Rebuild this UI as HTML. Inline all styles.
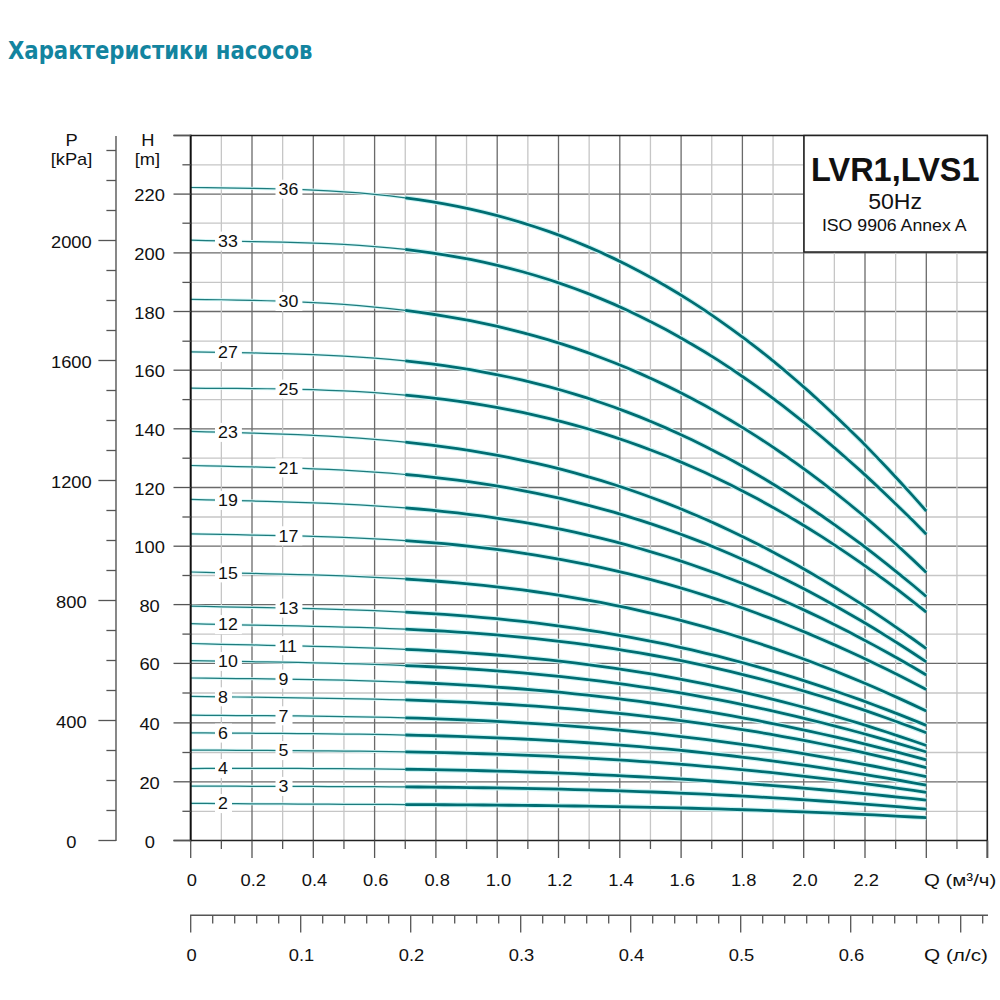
<!DOCTYPE html>
<html><head><meta charset="utf-8"><style>
html,body{margin:0;padding:0;background:#fff;width:1000px;height:1000px;overflow:hidden}
h1{position:absolute;left:8px;top:35px;margin:0;font:bold 25.5px/30px "DejaVu Sans Condensed","Liberation Sans",sans-serif;color:#13849f;white-space:nowrap;transform:scaleX(0.925);transform-origin:0 0}
svg{position:absolute;left:0;top:0}
.lb{font:16.8px "Liberation Sans",sans-serif;fill:#111}
.bx{font-family:"Liberation Sans",sans-serif;fill:#111}
.ax{font:16.8px "Liberation Sans",sans-serif;fill:#111}
</style></head><body>
<h1>Характеристики насосов</h1>
<svg width="1000" height="1000" viewBox="0 0 1000 1000">
<line x1="190.7" y1="811.30" x2="987.5" y2="811.30" stroke="#c6c6c6" stroke-width="1.3"/>
<line x1="190.7" y1="781.80" x2="987.5" y2="781.80" stroke="#6a6a6a" stroke-width="1.3"/>
<line x1="190.7" y1="752.50" x2="987.5" y2="752.50" stroke="#c6c6c6" stroke-width="1.3"/>
<line x1="190.7" y1="722.90" x2="987.5" y2="722.90" stroke="#6a6a6a" stroke-width="1.3"/>
<line x1="190.7" y1="693.00" x2="987.5" y2="693.00" stroke="#c6c6c6" stroke-width="1.3"/>
<line x1="190.7" y1="663.40" x2="987.5" y2="663.40" stroke="#6a6a6a" stroke-width="1.3"/>
<line x1="190.7" y1="634.10" x2="987.5" y2="634.10" stroke="#c6c6c6" stroke-width="1.3"/>
<line x1="190.7" y1="604.60" x2="987.5" y2="604.60" stroke="#6a6a6a" stroke-width="1.3"/>
<line x1="190.7" y1="575.50" x2="987.5" y2="575.50" stroke="#c6c6c6" stroke-width="1.3"/>
<line x1="190.7" y1="546.20" x2="987.5" y2="546.20" stroke="#6a6a6a" stroke-width="1.3"/>
<line x1="190.7" y1="517.00" x2="987.5" y2="517.00" stroke="#c6c6c6" stroke-width="1.3"/>
<line x1="190.7" y1="487.50" x2="987.5" y2="487.50" stroke="#6a6a6a" stroke-width="1.3"/>
<line x1="190.7" y1="458.20" x2="987.5" y2="458.20" stroke="#c6c6c6" stroke-width="1.3"/>
<line x1="190.7" y1="428.80" x2="987.5" y2="428.80" stroke="#6a6a6a" stroke-width="1.3"/>
<line x1="190.7" y1="399.60" x2="987.5" y2="399.60" stroke="#c6c6c6" stroke-width="1.3"/>
<line x1="190.7" y1="370.20" x2="987.5" y2="370.20" stroke="#6a6a6a" stroke-width="1.3"/>
<line x1="190.7" y1="341.20" x2="987.5" y2="341.20" stroke="#c6c6c6" stroke-width="1.3"/>
<line x1="190.7" y1="311.50" x2="987.5" y2="311.50" stroke="#6a6a6a" stroke-width="1.3"/>
<line x1="190.7" y1="282.40" x2="987.5" y2="282.40" stroke="#c6c6c6" stroke-width="1.3"/>
<line x1="190.7" y1="252.90" x2="987.5" y2="252.90" stroke="#6a6a6a" stroke-width="1.3"/>
<line x1="190.7" y1="223.20" x2="987.5" y2="223.20" stroke="#c6c6c6" stroke-width="1.3"/>
<line x1="190.7" y1="194.10" x2="987.5" y2="194.10" stroke="#6a6a6a" stroke-width="1.3"/>
<line x1="190.7" y1="164.80" x2="987.5" y2="164.80" stroke="#c6c6c6" stroke-width="1.3"/>
<line x1="221.35" y1="135.5" x2="221.35" y2="840.5" stroke="#c6c6c6" stroke-width="1.3"/>
<line x1="252.00" y1="135.5" x2="252.00" y2="840.5" stroke="#6a6a6a" stroke-width="1.3"/>
<line x1="282.65" y1="135.5" x2="282.65" y2="840.5" stroke="#c6c6c6" stroke-width="1.3"/>
<line x1="313.30" y1="135.5" x2="313.30" y2="840.5" stroke="#6a6a6a" stroke-width="1.3"/>
<line x1="343.95" y1="135.5" x2="343.95" y2="840.5" stroke="#c6c6c6" stroke-width="1.3"/>
<line x1="374.60" y1="135.5" x2="374.60" y2="840.5" stroke="#6a6a6a" stroke-width="1.3"/>
<line x1="405.25" y1="135.5" x2="405.25" y2="840.5" stroke="#c6c6c6" stroke-width="1.3"/>
<line x1="435.90" y1="135.5" x2="435.90" y2="840.5" stroke="#6a6a6a" stroke-width="1.3"/>
<line x1="466.55" y1="135.5" x2="466.55" y2="840.5" stroke="#c6c6c6" stroke-width="1.3"/>
<line x1="497.20" y1="135.5" x2="497.20" y2="840.5" stroke="#6a6a6a" stroke-width="1.3"/>
<line x1="527.85" y1="135.5" x2="527.85" y2="840.5" stroke="#c6c6c6" stroke-width="1.3"/>
<line x1="558.50" y1="135.5" x2="558.50" y2="840.5" stroke="#6a6a6a" stroke-width="1.3"/>
<line x1="589.15" y1="135.5" x2="589.15" y2="840.5" stroke="#c6c6c6" stroke-width="1.3"/>
<line x1="619.80" y1="135.5" x2="619.80" y2="840.5" stroke="#6a6a6a" stroke-width="1.3"/>
<line x1="650.45" y1="135.5" x2="650.45" y2="840.5" stroke="#c6c6c6" stroke-width="1.3"/>
<line x1="681.10" y1="135.5" x2="681.10" y2="840.5" stroke="#6a6a6a" stroke-width="1.3"/>
<line x1="711.75" y1="135.5" x2="711.75" y2="840.5" stroke="#c6c6c6" stroke-width="1.3"/>
<line x1="742.40" y1="135.5" x2="742.40" y2="840.5" stroke="#6a6a6a" stroke-width="1.3"/>
<line x1="773.05" y1="135.5" x2="773.05" y2="840.5" stroke="#c6c6c6" stroke-width="1.3"/>
<line x1="803.70" y1="135.5" x2="803.70" y2="840.5" stroke="#6a6a6a" stroke-width="1.3"/>
<line x1="834.35" y1="135.5" x2="834.35" y2="840.5" stroke="#c6c6c6" stroke-width="1.3"/>
<line x1="865.00" y1="135.5" x2="865.00" y2="840.5" stroke="#6a6a6a" stroke-width="1.3"/>
<line x1="895.65" y1="135.5" x2="895.65" y2="840.5" stroke="#c6c6c6" stroke-width="1.3"/>
<line x1="926.30" y1="135.5" x2="926.30" y2="840.5" stroke="#6a6a6a" stroke-width="1.3"/>
<line x1="956.95" y1="135.5" x2="956.95" y2="840.5" stroke="#c6c6c6" stroke-width="1.3"/>
<path d="M190.7,187.50 L206.0,187.73 L221.3,187.92 L236.7,188.12 L252.0,188.35 L267.3,188.63 L282.6,189.00 L298.0,189.47 L313.3,190.08 L328.6,190.84 L343.9,191.78 L359.3,192.92 L374.6,194.29 L389.9,195.91 L405.2,197.79" fill="none" stroke="#d6f7f7" stroke-width="3"/>
<path d="M405.2,197.79 L418.3,199.61 L431.3,201.64 L444.3,203.91 L457.4,206.41 L470.4,209.17 L483.4,212.18 L496.4,215.46 L509.5,219.01 L522.5,222.86 L535.5,226.99 L548.5,231.43 L561.6,236.17 L574.6,241.24 L587.6,246.62 L600.6,252.33 L613.7,258.38 L626.7,264.76 L639.7,271.49 L652.7,278.56 L665.8,285.99 L678.8,293.77 L691.8,301.92 L704.9,310.42 L717.9,319.29 L730.9,328.52 L743.9,338.12 L757.0,348.09 L770.0,358.43 L783.0,369.14 L796.0,380.22 L809.1,391.67 L822.1,403.48 L835.1,415.66 L848.1,428.21 L861.2,441.12 L874.2,454.39 L887.2,468.02 L900.2,482.00 L913.3,496.33 L926.3,511.00" fill="none" stroke="#c9f3f3" stroke-width="5"/>
<path d="M190.7,240.20 L206.0,240.62 L221.3,240.96 L236.7,241.25 L252.0,241.52 L267.3,241.81 L282.6,242.13 L298.0,242.53 L313.3,243.03 L328.6,243.65 L343.9,244.43 L359.3,245.37 L374.6,246.52 L389.9,247.88 L405.2,249.48" fill="none" stroke="#d6f7f7" stroke-width="3"/>
<path d="M405.2,249.48 L418.3,251.05 L431.3,252.82 L444.3,254.81 L457.4,257.01 L470.4,259.45 L483.4,262.13 L496.4,265.07 L509.5,268.27 L522.5,271.73 L535.5,275.48 L548.5,279.51 L561.6,283.83 L574.6,288.45 L587.6,293.37 L600.6,298.60 L613.7,304.14 L626.7,310.00 L639.7,316.19 L652.7,322.69 L665.8,329.53 L678.8,336.69 L691.8,344.18 L704.9,352.01 L717.9,360.17 L730.9,368.65 L743.9,377.47 L757.0,386.62 L770.0,396.10 L783.0,405.91 L796.0,416.04 L809.1,426.49 L822.1,437.25 L835.1,448.33 L848.1,459.72 L861.2,471.41 L874.2,483.40 L887.2,495.68 L900.2,508.25 L913.3,521.09 L926.3,534.20" fill="none" stroke="#c9f3f3" stroke-width="5"/>
<path d="M190.7,299.30 L206.0,299.51 L221.3,299.75 L236.7,300.02 L252.0,300.34 L267.3,300.75 L282.6,301.24 L298.0,301.84 L313.3,302.57 L328.6,303.43 L343.9,304.45 L359.3,305.65 L374.6,307.03 L389.9,308.61 L405.2,310.40" fill="none" stroke="#d6f7f7" stroke-width="3"/>
<path d="M405.2,310.40 L418.3,312.11 L431.3,313.99 L444.3,316.05 L457.4,318.29 L470.4,320.74 L483.4,323.38 L496.4,326.24 L509.5,329.32 L522.5,332.62 L535.5,336.14 L548.5,339.91 L561.6,343.92 L574.6,348.18 L587.6,352.69 L600.6,357.46 L613.7,362.49 L626.7,367.80 L639.7,373.38 L652.7,379.24 L665.8,385.38 L678.8,391.81 L691.8,398.53 L704.9,405.54 L717.9,412.85 L730.9,420.47 L743.9,428.39 L757.0,436.62 L770.0,445.16 L783.0,454.01 L796.0,463.17 L809.1,472.66 L822.1,482.46 L835.1,492.58 L848.1,503.02 L861.2,513.79 L874.2,524.88 L887.2,536.30 L900.2,548.04 L913.3,560.11 L926.3,572.50" fill="none" stroke="#c9f3f3" stroke-width="5"/>
<path d="M190.7,351.80 L206.0,352.11 L221.3,352.39 L236.7,352.66 L252.0,352.95 L267.3,353.27 L282.6,353.65 L298.0,354.11 L313.3,354.66 L328.6,355.32 L343.9,356.12 L359.3,357.06 L374.6,358.16 L389.9,359.45 L405.2,360.93" fill="none" stroke="#d6f7f7" stroke-width="3"/>
<path d="M405.2,360.93 L418.3,362.35 L431.3,363.94 L444.3,365.69 L457.4,367.62 L470.4,369.73 L483.4,372.04 L496.4,374.54 L509.5,377.25 L522.5,380.17 L535.5,383.31 L548.5,386.68 L561.6,390.27 L574.6,394.10 L587.6,398.17 L600.6,402.48 L613.7,407.04 L626.7,411.86 L639.7,416.92 L652.7,422.25 L665.8,427.84 L678.8,433.70 L691.8,439.82 L704.9,446.21 L717.9,452.88 L730.9,459.81 L743.9,467.02 L757.0,474.50 L770.0,482.26 L783.0,490.29 L796.0,498.60 L809.1,507.18 L822.1,516.03 L835.1,525.16 L848.1,534.56 L861.2,544.22 L874.2,554.16 L887.2,564.35 L900.2,574.81 L913.3,585.53 L926.3,596.50" fill="none" stroke="#c9f3f3" stroke-width="5"/>
<path d="M190.7,388.20 L206.0,388.28 L221.3,388.36 L236.7,388.45 L252.0,388.57 L267.3,388.75 L282.6,388.99 L298.0,389.31 L313.3,389.72 L328.6,390.26 L343.9,390.91 L359.3,391.72 L374.6,392.67 L389.9,393.80 L405.2,395.11" fill="none" stroke="#d6f7f7" stroke-width="3"/>
<path d="M405.2,395.11 L418.3,396.37 L431.3,397.79 L444.3,399.36 L457.4,401.09 L470.4,402.99 L483.4,405.07 L496.4,407.33 L509.5,409.78 L522.5,412.43 L535.5,415.27 L548.5,418.32 L561.6,421.58 L574.6,425.06 L587.6,428.75 L600.6,432.67 L613.7,436.82 L626.7,441.21 L639.7,445.83 L652.7,450.69 L665.8,455.79 L678.8,461.14 L691.8,466.74 L704.9,472.59 L717.9,478.70 L730.9,485.07 L743.9,491.69 L757.0,498.57 L770.0,505.72 L783.0,513.12 L796.0,520.80 L809.1,528.73 L822.1,536.94 L835.1,545.41 L848.1,554.14 L861.2,563.14 L874.2,572.40 L887.2,581.93 L900.2,591.73 L913.3,601.78 L926.3,612.10" fill="none" stroke="#c9f3f3" stroke-width="5"/>
<path d="M190.7,431.30 L206.0,431.77 L221.3,432.21 L236.7,432.65 L252.0,433.11 L267.3,433.60 L282.6,434.14 L298.0,434.74 L313.3,435.43 L328.6,436.22 L343.9,437.12 L359.3,438.15 L374.6,439.31 L389.9,440.64 L405.2,442.13" fill="none" stroke="#d6f7f7" stroke-width="3"/>
<path d="M405.2,442.13 L418.3,443.53 L431.3,445.08 L444.3,446.77 L457.4,448.61 L470.4,450.60 L483.4,452.76 L496.4,455.09 L509.5,457.59 L522.5,460.28 L535.5,463.15 L548.5,466.20 L561.6,469.46 L574.6,472.91 L587.6,476.56 L600.6,480.42 L613.7,484.48 L626.7,488.76 L639.7,493.26 L652.7,497.97 L665.8,502.90 L678.8,508.06 L691.8,513.43 L704.9,519.03 L717.9,524.86 L730.9,530.91 L743.9,537.19 L757.0,543.70 L770.0,550.44 L783.0,557.40 L796.0,564.59 L809.1,572.00 L822.1,579.64 L835.1,587.50 L848.1,595.59 L861.2,603.89 L874.2,612.41 L887.2,621.14 L900.2,630.09 L913.3,639.24 L926.3,648.60" fill="none" stroke="#c9f3f3" stroke-width="5"/>
<path d="M190.7,465.50 L206.0,465.87 L221.3,466.22 L236.7,466.56 L252.0,466.92 L267.3,467.31 L282.6,467.74 L298.0,468.23 L313.3,468.79 L328.6,469.45 L343.9,470.20 L359.3,471.07 L374.6,472.07 L389.9,473.21 L405.2,474.50" fill="none" stroke="#d6f7f7" stroke-width="3"/>
<path d="M405.2,474.50 L418.3,475.72 L431.3,477.07 L444.3,478.55 L457.4,480.17 L470.4,481.93 L483.4,483.84 L496.4,485.90 L509.5,488.12 L522.5,490.51 L535.5,493.07 L548.5,495.80 L561.6,498.71 L574.6,501.80 L587.6,505.08 L600.6,508.55 L613.7,512.20 L626.7,516.06 L639.7,520.11 L652.7,524.36 L665.8,528.82 L678.8,533.48 L691.8,538.35 L704.9,543.42 L717.9,548.71 L730.9,554.20 L743.9,559.91 L757.0,565.82 L770.0,571.95 L783.0,578.30 L796.0,584.85 L809.1,591.61 L822.1,598.59 L835.1,605.77 L848.1,613.17 L861.2,620.77 L874.2,628.57 L887.2,636.58 L900.2,644.79 L913.3,653.20 L926.3,661.80" fill="none" stroke="#c9f3f3" stroke-width="5"/>
<path d="M190.7,499.40 L206.0,499.83 L221.3,500.23 L236.7,500.61 L252.0,500.99 L267.3,501.38 L282.6,501.81 L298.0,502.28 L313.3,502.81 L328.6,503.41 L343.9,504.10 L359.3,504.88 L374.6,505.77 L389.9,506.79 L405.2,507.93" fill="none" stroke="#d6f7f7" stroke-width="3"/>
<path d="M405.2,507.93 L418.3,509.02 L431.3,510.22 L444.3,511.53 L457.4,512.96 L470.4,514.52 L483.4,516.22 L496.4,518.05 L509.5,520.02 L522.5,522.14 L535.5,524.41 L548.5,526.84 L561.6,529.43 L574.6,532.18 L587.6,535.10 L600.6,538.19 L613.7,541.45 L626.7,544.89 L639.7,548.50 L652.7,552.30 L665.8,556.27 L678.8,560.43 L691.8,564.78 L704.9,569.31 L717.9,574.03 L730.9,578.94 L743.9,584.04 L757.0,589.33 L770.0,594.81 L783.0,600.47 L796.0,606.33 L809.1,612.37 L822.1,618.60 L835.1,625.02 L848.1,631.62 L861.2,638.41 L874.2,645.37 L887.2,652.52 L900.2,659.84 L913.3,667.33 L926.3,675.00" fill="none" stroke="#c9f3f3" stroke-width="5"/>
<path d="M190.7,533.80 L206.0,534.14 L221.3,534.45 L236.7,534.74 L252.0,535.02 L267.3,535.31 L282.6,535.63 L298.0,535.99 L313.3,536.40 L328.6,536.87 L343.9,537.43 L359.3,538.07 L374.6,538.81 L389.9,539.66 L405.2,540.63" fill="none" stroke="#d6f7f7" stroke-width="3"/>
<path d="M405.2,540.63 L418.3,541.56 L431.3,542.60 L444.3,543.73 L457.4,544.99 L470.4,546.35 L483.4,547.84 L496.4,549.46 L509.5,551.21 L522.5,553.09 L535.5,555.11 L548.5,557.27 L561.6,559.58 L574.6,562.04 L587.6,564.65 L600.6,567.42 L613.7,570.34 L626.7,573.42 L639.7,576.66 L652.7,580.07 L665.8,583.63 L678.8,587.37 L691.8,591.27 L704.9,595.33 L717.9,599.57 L730.9,603.97 L743.9,608.54 L757.0,613.27 L770.0,618.17 L783.0,623.24 L796.0,628.47 L809.1,633.86 L822.1,639.42 L835.1,645.13 L848.1,651.01 L861.2,657.03 L874.2,663.21 L887.2,669.54 L900.2,676.02 L913.3,682.64 L926.3,689.40" fill="none" stroke="#c9f3f3" stroke-width="5"/>
<path d="M190.7,572.00 L206.0,572.40 L221.3,572.77 L236.7,573.11 L252.0,573.45 L267.3,573.79 L282.6,574.15 L298.0,574.54 L313.3,574.97 L328.6,575.45 L343.9,575.99 L359.3,576.60 L374.6,577.30 L389.9,578.09 L405.2,578.98" fill="none" stroke="#d6f7f7" stroke-width="3"/>
<path d="M405.2,578.98 L418.3,579.82 L431.3,580.74 L444.3,581.76 L457.4,582.86 L470.4,584.07 L483.4,585.38 L496.4,586.80 L509.5,588.33 L522.5,589.98 L535.5,591.75 L548.5,593.64 L561.6,595.65 L574.6,597.80 L587.6,600.07 L600.6,602.49 L613.7,605.04 L626.7,607.73 L639.7,610.56 L652.7,613.54 L665.8,616.66 L678.8,619.93 L691.8,623.36 L704.9,626.93 L717.9,630.65 L730.9,634.53 L743.9,638.56 L757.0,642.74 L770.0,647.08 L783.0,651.57 L796.0,656.21 L809.1,661.01 L822.1,665.97 L835.1,671.07 L848.1,676.33 L861.2,681.74 L874.2,687.30 L887.2,693.00 L900.2,698.86 L913.3,704.86 L926.3,711.00" fill="none" stroke="#c9f3f3" stroke-width="5"/>
<path d="M190.7,606.10 L206.0,606.46 L221.3,606.78 L236.7,607.09 L252.0,607.39 L267.3,607.69 L282.6,608.00 L298.0,608.33 L313.3,608.70 L328.6,609.11 L343.9,609.57 L359.3,610.09 L374.6,610.68 L389.9,611.34 L405.2,612.09" fill="none" stroke="#d6f7f7" stroke-width="3"/>
<path d="M405.2,612.09 L418.3,612.81 L431.3,613.59 L444.3,614.45 L457.4,615.39 L470.4,616.41 L483.4,617.53 L496.4,618.73 L509.5,620.04 L522.5,621.44 L535.5,622.94 L548.5,624.55 L561.6,626.27 L574.6,628.10 L587.6,630.04 L600.6,632.10 L613.7,634.28 L626.7,636.58 L639.7,639.01 L652.7,641.55 L665.8,644.23 L678.8,647.03 L691.8,649.96 L704.9,653.03 L717.9,656.22 L730.9,659.55 L743.9,663.01 L757.0,666.60 L770.0,670.32 L783.0,674.19 L796.0,678.18 L809.1,682.31 L822.1,686.57 L835.1,690.97 L848.1,695.50 L861.2,700.16 L874.2,704.95 L887.2,709.87 L900.2,714.92 L913.3,720.10 L926.3,725.40" fill="none" stroke="#c9f3f3" stroke-width="5"/>
<path d="M190.7,623.70 L206.0,624.09 L221.3,624.44 L236.7,624.77 L252.0,625.07 L267.3,625.36 L282.6,625.66 L298.0,625.96 L313.3,626.29 L328.6,626.65 L343.9,627.05 L359.3,627.49 L374.6,627.99 L389.9,628.56 L405.2,629.20" fill="none" stroke="#d6f7f7" stroke-width="3"/>
<path d="M405.2,629.20 L418.3,629.81 L431.3,630.48 L444.3,631.22 L457.4,632.03 L470.4,632.92 L483.4,633.89 L496.4,634.94 L509.5,636.07 L522.5,637.30 L535.5,638.62 L548.5,640.04 L561.6,641.56 L574.6,643.19 L587.6,644.92 L600.6,646.76 L613.7,648.71 L626.7,650.77 L639.7,652.95 L652.7,655.25 L665.8,657.67 L678.8,660.20 L691.8,662.87 L704.9,665.65 L717.9,668.57 L730.9,671.61 L743.9,674.78 L757.0,678.07 L770.0,681.50 L783.0,685.06 L796.0,688.75 L809.1,692.57 L822.1,696.52 L835.1,700.60 L848.1,704.81 L861.2,709.15 L874.2,713.62 L887.2,718.23 L900.2,722.96 L913.3,727.81 L926.3,732.80" fill="none" stroke="#c9f3f3" stroke-width="5"/>
<path d="M190.7,643.50 L206.0,643.90 L221.3,644.27 L236.7,644.62 L252.0,644.95 L267.3,645.27 L282.6,645.60 L298.0,645.93 L313.3,646.29 L328.6,646.68 L343.9,647.11 L359.3,647.58 L374.6,648.11 L389.9,648.69 L405.2,649.35" fill="none" stroke="#d6f7f7" stroke-width="3"/>
<path d="M405.2,649.35 L418.3,649.96 L431.3,650.63 L444.3,651.37 L457.4,652.17 L470.4,653.04 L483.4,653.98 L496.4,655.00 L509.5,656.10 L522.5,657.28 L535.5,658.55 L548.5,659.91 L561.6,661.35 L574.6,662.90 L587.6,664.53 L600.6,666.27 L613.7,668.11 L626.7,670.05 L639.7,672.09 L652.7,674.24 L665.8,676.50 L678.8,678.86 L691.8,681.34 L704.9,683.93 L717.9,686.63 L730.9,689.45 L743.9,692.38 L757.0,695.43 L770.0,698.59 L783.0,701.86 L796.0,705.25 L809.1,708.76 L822.1,712.39 L835.1,716.13 L848.1,719.98 L861.2,723.95 L874.2,728.04 L887.2,732.24 L900.2,736.55 L913.3,740.97 L926.3,745.50" fill="none" stroke="#c9f3f3" stroke-width="5"/>
<path d="M190.7,660.70 L206.0,660.98 L221.3,661.23 L236.7,661.48 L252.0,661.72 L267.3,661.96 L282.6,662.22 L298.0,662.49 L313.3,662.79 L328.6,663.13 L343.9,663.51 L359.3,663.93 L374.6,664.41 L389.9,664.95 L405.2,665.55" fill="none" stroke="#d6f7f7" stroke-width="3"/>
<path d="M405.2,665.55 L418.3,666.12 L431.3,666.75 L444.3,667.43 L457.4,668.18 L470.4,668.99 L483.4,669.87 L496.4,670.81 L509.5,671.83 L522.5,672.93 L535.5,674.10 L548.5,675.36 L561.6,676.69 L574.6,678.11 L587.6,679.61 L600.6,681.20 L613.7,682.89 L626.7,684.66 L639.7,686.52 L652.7,688.48 L665.8,690.53 L678.8,692.67 L691.8,694.92 L704.9,697.26 L717.9,699.69 L730.9,702.23 L743.9,704.86 L757.0,707.60 L770.0,710.43 L783.0,713.36 L796.0,716.39 L809.1,719.52 L822.1,722.74 L835.1,726.07 L848.1,729.49 L861.2,733.00 L874.2,736.62 L887.2,740.32 L900.2,744.12 L913.3,748.02 L926.3,752.00" fill="none" stroke="#c9f3f3" stroke-width="5"/>
<path d="M190.7,678.00 L206.0,678.18 L221.3,678.35 L236.7,678.53 L252.0,678.70 L267.3,678.89 L282.6,679.09 L298.0,679.32 L313.3,679.59 L328.6,679.88 L343.9,680.23 L359.3,680.61 L374.6,681.06 L389.9,681.56 L405.2,682.12" fill="none" stroke="#d6f7f7" stroke-width="3"/>
<path d="M405.2,682.12 L418.3,682.66 L431.3,683.24 L444.3,683.88 L457.4,684.58 L470.4,685.33 L483.4,686.15 L496.4,687.03 L509.5,687.98 L522.5,689.00 L535.5,690.08 L548.5,691.24 L561.6,692.47 L574.6,693.77 L587.6,695.16 L600.6,696.62 L613.7,698.15 L626.7,699.77 L639.7,701.47 L652.7,703.25 L665.8,705.11 L678.8,707.06 L691.8,709.08 L704.9,711.20 L717.9,713.39 L730.9,715.67 L743.9,718.04 L757.0,720.49 L770.0,723.02 L783.0,725.64 L796.0,728.34 L809.1,731.13 L822.1,734.00 L835.1,736.94 L848.1,739.98 L861.2,743.09 L874.2,746.28 L887.2,749.54 L900.2,752.89 L913.3,756.31 L926.3,759.80" fill="none" stroke="#c9f3f3" stroke-width="5"/>
<path d="M190.7,696.30 L206.0,696.56 L221.3,696.79 L236.7,697.00 L252.0,697.20 L267.3,697.40 L282.6,697.60 L298.0,697.80 L313.3,698.02 L328.6,698.26 L343.9,698.53 L359.3,698.83 L374.6,699.16 L389.9,699.54 L405.2,699.97" fill="none" stroke="#d6f7f7" stroke-width="3"/>
<path d="M405.2,699.97 L418.3,700.37 L431.3,700.82 L444.3,701.30 L457.4,701.84 L470.4,702.43 L483.4,703.06 L496.4,703.76 L509.5,704.51 L522.5,705.31 L535.5,706.18 L548.5,707.12 L561.6,708.12 L574.6,709.18 L587.6,710.32 L600.6,711.52 L613.7,712.80 L626.7,714.15 L639.7,715.58 L652.7,717.08 L665.8,718.66 L678.8,720.32 L691.8,722.06 L704.9,723.88 L717.9,725.79 L730.9,727.77 L743.9,729.84 L757.0,731.99 L770.0,734.22 L783.0,736.54 L796.0,738.94 L809.1,741.43 L822.1,744.00 L835.1,746.66 L848.1,749.40 L861.2,752.23 L874.2,755.14 L887.2,758.13 L900.2,761.20 L913.3,764.36 L926.3,767.60" fill="none" stroke="#c9f3f3" stroke-width="5"/>
<path d="M190.7,715.20 L206.0,715.31 L221.3,715.41 L236.7,715.50 L252.0,715.60 L267.3,715.71 L282.6,715.83 L298.0,715.97 L313.3,716.13 L328.6,716.32 L343.9,716.54 L359.3,716.80 L374.6,717.10 L389.9,717.44 L405.2,717.83" fill="none" stroke="#d6f7f7" stroke-width="3"/>
<path d="M405.2,717.83 L418.3,718.20 L431.3,718.62 L444.3,719.07 L457.4,719.57 L470.4,720.11 L483.4,720.71 L496.4,721.35 L509.5,722.04 L522.5,722.78 L535.5,723.58 L548.5,724.44 L561.6,725.35 L574.6,726.32 L587.6,727.35 L600.6,728.44 L613.7,729.59 L626.7,730.80 L639.7,732.07 L652.7,733.41 L665.8,734.82 L678.8,736.29 L691.8,737.82 L704.9,739.42 L717.9,741.09 L730.9,742.82 L743.9,744.62 L757.0,746.48 L770.0,748.42 L783.0,750.42 L796.0,752.48 L809.1,754.62 L822.1,756.81 L835.1,759.08 L848.1,761.41 L861.2,763.80 L874.2,766.25 L887.2,768.77 L900.2,771.35 L913.3,774.00 L926.3,776.70" fill="none" stroke="#c9f3f3" stroke-width="5"/>
<path d="M190.7,732.80 L206.0,732.92 L221.3,733.04 L236.7,733.14 L252.0,733.24 L267.3,733.34 L282.6,733.44 L298.0,733.56 L313.3,733.69 L328.6,733.84 L343.9,734.01 L359.3,734.22 L374.6,734.45 L389.9,734.72 L405.2,735.02" fill="none" stroke="#d6f7f7" stroke-width="3"/>
<path d="M405.2,735.02 L418.3,735.31 L431.3,735.64 L444.3,736.00 L457.4,736.40 L470.4,736.83 L483.4,737.31 L496.4,737.82 L509.5,738.38 L522.5,738.99 L535.5,739.64 L548.5,740.34 L561.6,741.08 L574.6,741.88 L587.6,742.73 L600.6,743.63 L613.7,744.59 L626.7,745.60 L639.7,746.67 L652.7,747.79 L665.8,748.97 L678.8,750.21 L691.8,751.51 L704.9,752.87 L717.9,754.28 L730.9,755.76 L743.9,757.30 L757.0,758.90 L770.0,760.56 L783.0,762.28 L796.0,764.06 L809.1,765.90 L822.1,767.80 L835.1,769.77 L848.1,771.79 L861.2,773.88 L874.2,776.03 L887.2,778.23 L900.2,780.50 L913.3,782.82 L926.3,785.20" fill="none" stroke="#c9f3f3" stroke-width="5"/>
<path d="M190.7,750.00 L206.0,750.11 L221.3,750.21 L236.7,750.30 L252.0,750.39 L267.3,750.48 L282.6,750.57 L298.0,750.68 L313.3,750.79 L328.6,750.92 L343.9,751.06 L359.3,751.23 L374.6,751.42 L389.9,751.64 L405.2,751.89" fill="none" stroke="#d6f7f7" stroke-width="3"/>
<path d="M405.2,751.89 L418.3,752.13 L431.3,752.40 L444.3,752.69 L457.4,753.02 L470.4,753.37 L483.4,753.75 L496.4,754.17 L509.5,754.62 L522.5,755.11 L535.5,755.64 L548.5,756.20 L561.6,756.81 L574.6,757.45 L587.6,758.14 L600.6,758.86 L613.7,759.63 L626.7,760.45 L639.7,761.31 L652.7,762.21 L665.8,763.16 L678.8,764.16 L691.8,765.21 L704.9,766.30 L717.9,767.44 L730.9,768.63 L743.9,769.86 L757.0,771.15 L770.0,772.48 L783.0,773.87 L796.0,775.30 L809.1,776.78 L822.1,778.31 L835.1,779.89 L848.1,781.52 L861.2,783.20 L874.2,784.92 L887.2,786.70 L900.2,788.52 L913.3,790.39 L926.3,792.30" fill="none" stroke="#c9f3f3" stroke-width="5"/>
<path d="M190.7,768.50 L206.0,768.48 L221.3,768.46 L236.7,768.45 L252.0,768.44 L267.3,768.44 L282.6,768.46 L298.0,768.49 L313.3,768.53 L328.6,768.60 L343.9,768.68 L359.3,768.79 L374.6,768.92 L389.9,769.08 L405.2,769.27" fill="none" stroke="#d6f7f7" stroke-width="3"/>
<path d="M405.2,769.27 L418.3,769.45 L431.3,769.66 L444.3,769.89 L457.4,770.14 L470.4,770.42 L483.4,770.73 L496.4,771.07 L509.5,771.43 L522.5,771.82 L535.5,772.24 L548.5,772.69 L561.6,773.17 L574.6,773.69 L587.6,774.23 L600.6,774.81 L613.7,775.42 L626.7,776.06 L639.7,776.73 L652.7,777.44 L665.8,778.18 L678.8,778.96 L691.8,779.77 L704.9,780.62 L717.9,781.50 L730.9,782.41 L743.9,783.36 L757.0,784.34 L770.0,785.35 L783.0,786.40 L796.0,787.49 L809.1,788.60 L822.1,789.75 L835.1,790.93 L848.1,792.15 L861.2,793.40 L874.2,794.68 L887.2,795.99 L900.2,797.33 L913.3,798.70 L926.3,800.10" fill="none" stroke="#c9f3f3" stroke-width="5"/>
<path d="M190.7,786.00 L206.0,786.09 L221.3,786.16 L236.7,786.22 L252.0,786.28 L267.3,786.33 L282.6,786.37 L298.0,786.42 L313.3,786.46 L328.6,786.52 L343.9,786.57 L359.3,786.64 L374.6,786.72 L389.9,786.81 L405.2,786.91" fill="none" stroke="#d6f7f7" stroke-width="3"/>
<path d="M405.2,786.91 L418.3,787.01 L431.3,787.12 L444.3,787.25 L457.4,787.40 L470.4,787.56 L483.4,787.73 L496.4,787.93 L509.5,788.14 L522.5,788.38 L535.5,788.63 L548.5,788.91 L561.6,789.21 L574.6,789.53 L587.6,789.88 L600.6,790.26 L613.7,790.65 L626.7,791.08 L639.7,791.53 L652.7,792.01 L665.8,792.52 L678.8,793.06 L691.8,793.62 L704.9,794.22 L717.9,794.84 L730.9,795.50 L743.9,796.19 L757.0,796.91 L770.0,797.66 L783.0,798.44 L796.0,799.25 L809.1,800.10 L822.1,800.98 L835.1,801.89 L848.1,802.84 L861.2,803.81 L874.2,804.82 L887.2,805.87 L900.2,806.95 L913.3,808.06 L926.3,809.20" fill="none" stroke="#c9f3f3" stroke-width="5"/>
<path d="M190.7,803.30 L206.0,803.45 L221.3,803.58 L236.7,803.70 L252.0,803.81 L267.3,803.90 L282.6,803.99 L298.0,804.06 L313.3,804.13 L328.6,804.20 L343.9,804.27 L359.3,804.33 L374.6,804.40 L389.9,804.46 L405.2,804.53" fill="none" stroke="#d6f7f7" stroke-width="3"/>
<path d="M405.2,804.53 L418.3,804.60 L431.3,804.67 L444.3,804.74 L457.4,804.82 L470.4,804.91 L483.4,805.01 L496.4,805.12 L509.5,805.23 L522.5,805.36 L535.5,805.50 L548.5,805.65 L561.6,805.81 L574.6,805.98 L587.6,806.17 L600.6,806.38 L613.7,806.60 L626.7,806.83 L639.7,807.08 L652.7,807.35 L665.8,807.64 L678.8,807.94 L691.8,808.27 L704.9,808.61 L717.9,808.97 L730.9,809.35 L743.9,809.75 L757.0,810.17 L770.0,810.62 L783.0,811.08 L796.0,811.57 L809.1,812.08 L822.1,812.61 L835.1,813.16 L848.1,813.74 L861.2,814.34 L874.2,814.96 L887.2,815.61 L900.2,816.28 L913.3,816.98 L926.3,817.70" fill="none" stroke="#c9f3f3" stroke-width="5"/>
<path d="M190.7,187.50 L206.0,187.73 L221.3,187.92 L236.7,188.12 L252.0,188.35 L267.3,188.63 L282.6,189.00 L298.0,189.47 L313.3,190.08 L328.6,190.84 L343.9,191.78 L359.3,192.92 L374.6,194.29 L389.9,195.91 L405.2,197.79" fill="none" stroke="#1d7b7d" stroke-width="1.25"/>
<path d="M405.2,197.79 L418.3,199.61 L431.3,201.64 L444.3,203.91 L457.4,206.41 L470.4,209.17 L483.4,212.18 L496.4,215.46 L509.5,219.01 L522.5,222.86 L535.5,226.99 L548.5,231.43 L561.6,236.17 L574.6,241.24 L587.6,246.62 L600.6,252.33 L613.7,258.38 L626.7,264.76 L639.7,271.49 L652.7,278.56 L665.8,285.99 L678.8,293.77 L691.8,301.92 L704.9,310.42 L717.9,319.29 L730.9,328.52 L743.9,338.12 L757.0,348.09 L770.0,358.43 L783.0,369.14 L796.0,380.22 L809.1,391.67 L822.1,403.48 L835.1,415.66 L848.1,428.21 L861.2,441.12 L874.2,454.39 L887.2,468.02 L900.2,482.00 L913.3,496.33 L926.3,511.00" fill="none" stroke="#006e73" stroke-width="2.8"/>
<path d="M190.7,240.20 L206.0,240.62 L221.3,240.96 L236.7,241.25 L252.0,241.52 L267.3,241.81 L282.6,242.13 L298.0,242.53 L313.3,243.03 L328.6,243.65 L343.9,244.43 L359.3,245.37 L374.6,246.52 L389.9,247.88 L405.2,249.48" fill="none" stroke="#1d7b7d" stroke-width="1.25"/>
<path d="M405.2,249.48 L418.3,251.05 L431.3,252.82 L444.3,254.81 L457.4,257.01 L470.4,259.45 L483.4,262.13 L496.4,265.07 L509.5,268.27 L522.5,271.73 L535.5,275.48 L548.5,279.51 L561.6,283.83 L574.6,288.45 L587.6,293.37 L600.6,298.60 L613.7,304.14 L626.7,310.00 L639.7,316.19 L652.7,322.69 L665.8,329.53 L678.8,336.69 L691.8,344.18 L704.9,352.01 L717.9,360.17 L730.9,368.65 L743.9,377.47 L757.0,386.62 L770.0,396.10 L783.0,405.91 L796.0,416.04 L809.1,426.49 L822.1,437.25 L835.1,448.33 L848.1,459.72 L861.2,471.41 L874.2,483.40 L887.2,495.68 L900.2,508.25 L913.3,521.09 L926.3,534.20" fill="none" stroke="#006e73" stroke-width="2.8"/>
<path d="M190.7,299.30 L206.0,299.51 L221.3,299.75 L236.7,300.02 L252.0,300.34 L267.3,300.75 L282.6,301.24 L298.0,301.84 L313.3,302.57 L328.6,303.43 L343.9,304.45 L359.3,305.65 L374.6,307.03 L389.9,308.61 L405.2,310.40" fill="none" stroke="#1d7b7d" stroke-width="1.25"/>
<path d="M405.2,310.40 L418.3,312.11 L431.3,313.99 L444.3,316.05 L457.4,318.29 L470.4,320.74 L483.4,323.38 L496.4,326.24 L509.5,329.32 L522.5,332.62 L535.5,336.14 L548.5,339.91 L561.6,343.92 L574.6,348.18 L587.6,352.69 L600.6,357.46 L613.7,362.49 L626.7,367.80 L639.7,373.38 L652.7,379.24 L665.8,385.38 L678.8,391.81 L691.8,398.53 L704.9,405.54 L717.9,412.85 L730.9,420.47 L743.9,428.39 L757.0,436.62 L770.0,445.16 L783.0,454.01 L796.0,463.17 L809.1,472.66 L822.1,482.46 L835.1,492.58 L848.1,503.02 L861.2,513.79 L874.2,524.88 L887.2,536.30 L900.2,548.04 L913.3,560.11 L926.3,572.50" fill="none" stroke="#006e73" stroke-width="2.8"/>
<path d="M190.7,351.80 L206.0,352.11 L221.3,352.39 L236.7,352.66 L252.0,352.95 L267.3,353.27 L282.6,353.65 L298.0,354.11 L313.3,354.66 L328.6,355.32 L343.9,356.12 L359.3,357.06 L374.6,358.16 L389.9,359.45 L405.2,360.93" fill="none" stroke="#1d7b7d" stroke-width="1.25"/>
<path d="M405.2,360.93 L418.3,362.35 L431.3,363.94 L444.3,365.69 L457.4,367.62 L470.4,369.73 L483.4,372.04 L496.4,374.54 L509.5,377.25 L522.5,380.17 L535.5,383.31 L548.5,386.68 L561.6,390.27 L574.6,394.10 L587.6,398.17 L600.6,402.48 L613.7,407.04 L626.7,411.86 L639.7,416.92 L652.7,422.25 L665.8,427.84 L678.8,433.70 L691.8,439.82 L704.9,446.21 L717.9,452.88 L730.9,459.81 L743.9,467.02 L757.0,474.50 L770.0,482.26 L783.0,490.29 L796.0,498.60 L809.1,507.18 L822.1,516.03 L835.1,525.16 L848.1,534.56 L861.2,544.22 L874.2,554.16 L887.2,564.35 L900.2,574.81 L913.3,585.53 L926.3,596.50" fill="none" stroke="#006e73" stroke-width="2.8"/>
<path d="M190.7,388.20 L206.0,388.28 L221.3,388.36 L236.7,388.45 L252.0,388.57 L267.3,388.75 L282.6,388.99 L298.0,389.31 L313.3,389.72 L328.6,390.26 L343.9,390.91 L359.3,391.72 L374.6,392.67 L389.9,393.80 L405.2,395.11" fill="none" stroke="#1d7b7d" stroke-width="1.25"/>
<path d="M405.2,395.11 L418.3,396.37 L431.3,397.79 L444.3,399.36 L457.4,401.09 L470.4,402.99 L483.4,405.07 L496.4,407.33 L509.5,409.78 L522.5,412.43 L535.5,415.27 L548.5,418.32 L561.6,421.58 L574.6,425.06 L587.6,428.75 L600.6,432.67 L613.7,436.82 L626.7,441.21 L639.7,445.83 L652.7,450.69 L665.8,455.79 L678.8,461.14 L691.8,466.74 L704.9,472.59 L717.9,478.70 L730.9,485.07 L743.9,491.69 L757.0,498.57 L770.0,505.72 L783.0,513.12 L796.0,520.80 L809.1,528.73 L822.1,536.94 L835.1,545.41 L848.1,554.14 L861.2,563.14 L874.2,572.40 L887.2,581.93 L900.2,591.73 L913.3,601.78 L926.3,612.10" fill="none" stroke="#006e73" stroke-width="2.8"/>
<path d="M190.7,431.30 L206.0,431.77 L221.3,432.21 L236.7,432.65 L252.0,433.11 L267.3,433.60 L282.6,434.14 L298.0,434.74 L313.3,435.43 L328.6,436.22 L343.9,437.12 L359.3,438.15 L374.6,439.31 L389.9,440.64 L405.2,442.13" fill="none" stroke="#1d7b7d" stroke-width="1.25"/>
<path d="M405.2,442.13 L418.3,443.53 L431.3,445.08 L444.3,446.77 L457.4,448.61 L470.4,450.60 L483.4,452.76 L496.4,455.09 L509.5,457.59 L522.5,460.28 L535.5,463.15 L548.5,466.20 L561.6,469.46 L574.6,472.91 L587.6,476.56 L600.6,480.42 L613.7,484.48 L626.7,488.76 L639.7,493.26 L652.7,497.97 L665.8,502.90 L678.8,508.06 L691.8,513.43 L704.9,519.03 L717.9,524.86 L730.9,530.91 L743.9,537.19 L757.0,543.70 L770.0,550.44 L783.0,557.40 L796.0,564.59 L809.1,572.00 L822.1,579.64 L835.1,587.50 L848.1,595.59 L861.2,603.89 L874.2,612.41 L887.2,621.14 L900.2,630.09 L913.3,639.24 L926.3,648.60" fill="none" stroke="#006e73" stroke-width="2.8"/>
<path d="M190.7,465.50 L206.0,465.87 L221.3,466.22 L236.7,466.56 L252.0,466.92 L267.3,467.31 L282.6,467.74 L298.0,468.23 L313.3,468.79 L328.6,469.45 L343.9,470.20 L359.3,471.07 L374.6,472.07 L389.9,473.21 L405.2,474.50" fill="none" stroke="#1d7b7d" stroke-width="1.25"/>
<path d="M405.2,474.50 L418.3,475.72 L431.3,477.07 L444.3,478.55 L457.4,480.17 L470.4,481.93 L483.4,483.84 L496.4,485.90 L509.5,488.12 L522.5,490.51 L535.5,493.07 L548.5,495.80 L561.6,498.71 L574.6,501.80 L587.6,505.08 L600.6,508.55 L613.7,512.20 L626.7,516.06 L639.7,520.11 L652.7,524.36 L665.8,528.82 L678.8,533.48 L691.8,538.35 L704.9,543.42 L717.9,548.71 L730.9,554.20 L743.9,559.91 L757.0,565.82 L770.0,571.95 L783.0,578.30 L796.0,584.85 L809.1,591.61 L822.1,598.59 L835.1,605.77 L848.1,613.17 L861.2,620.77 L874.2,628.57 L887.2,636.58 L900.2,644.79 L913.3,653.20 L926.3,661.80" fill="none" stroke="#006e73" stroke-width="2.8"/>
<path d="M190.7,499.40 L206.0,499.83 L221.3,500.23 L236.7,500.61 L252.0,500.99 L267.3,501.38 L282.6,501.81 L298.0,502.28 L313.3,502.81 L328.6,503.41 L343.9,504.10 L359.3,504.88 L374.6,505.77 L389.9,506.79 L405.2,507.93" fill="none" stroke="#1d7b7d" stroke-width="1.25"/>
<path d="M405.2,507.93 L418.3,509.02 L431.3,510.22 L444.3,511.53 L457.4,512.96 L470.4,514.52 L483.4,516.22 L496.4,518.05 L509.5,520.02 L522.5,522.14 L535.5,524.41 L548.5,526.84 L561.6,529.43 L574.6,532.18 L587.6,535.10 L600.6,538.19 L613.7,541.45 L626.7,544.89 L639.7,548.50 L652.7,552.30 L665.8,556.27 L678.8,560.43 L691.8,564.78 L704.9,569.31 L717.9,574.03 L730.9,578.94 L743.9,584.04 L757.0,589.33 L770.0,594.81 L783.0,600.47 L796.0,606.33 L809.1,612.37 L822.1,618.60 L835.1,625.02 L848.1,631.62 L861.2,638.41 L874.2,645.37 L887.2,652.52 L900.2,659.84 L913.3,667.33 L926.3,675.00" fill="none" stroke="#006e73" stroke-width="2.8"/>
<path d="M190.7,533.80 L206.0,534.14 L221.3,534.45 L236.7,534.74 L252.0,535.02 L267.3,535.31 L282.6,535.63 L298.0,535.99 L313.3,536.40 L328.6,536.87 L343.9,537.43 L359.3,538.07 L374.6,538.81 L389.9,539.66 L405.2,540.63" fill="none" stroke="#1d7b7d" stroke-width="1.25"/>
<path d="M405.2,540.63 L418.3,541.56 L431.3,542.60 L444.3,543.73 L457.4,544.99 L470.4,546.35 L483.4,547.84 L496.4,549.46 L509.5,551.21 L522.5,553.09 L535.5,555.11 L548.5,557.27 L561.6,559.58 L574.6,562.04 L587.6,564.65 L600.6,567.42 L613.7,570.34 L626.7,573.42 L639.7,576.66 L652.7,580.07 L665.8,583.63 L678.8,587.37 L691.8,591.27 L704.9,595.33 L717.9,599.57 L730.9,603.97 L743.9,608.54 L757.0,613.27 L770.0,618.17 L783.0,623.24 L796.0,628.47 L809.1,633.86 L822.1,639.42 L835.1,645.13 L848.1,651.01 L861.2,657.03 L874.2,663.21 L887.2,669.54 L900.2,676.02 L913.3,682.64 L926.3,689.40" fill="none" stroke="#006e73" stroke-width="2.8"/>
<path d="M190.7,572.00 L206.0,572.40 L221.3,572.77 L236.7,573.11 L252.0,573.45 L267.3,573.79 L282.6,574.15 L298.0,574.54 L313.3,574.97 L328.6,575.45 L343.9,575.99 L359.3,576.60 L374.6,577.30 L389.9,578.09 L405.2,578.98" fill="none" stroke="#1d7b7d" stroke-width="1.25"/>
<path d="M405.2,578.98 L418.3,579.82 L431.3,580.74 L444.3,581.76 L457.4,582.86 L470.4,584.07 L483.4,585.38 L496.4,586.80 L509.5,588.33 L522.5,589.98 L535.5,591.75 L548.5,593.64 L561.6,595.65 L574.6,597.80 L587.6,600.07 L600.6,602.49 L613.7,605.04 L626.7,607.73 L639.7,610.56 L652.7,613.54 L665.8,616.66 L678.8,619.93 L691.8,623.36 L704.9,626.93 L717.9,630.65 L730.9,634.53 L743.9,638.56 L757.0,642.74 L770.0,647.08 L783.0,651.57 L796.0,656.21 L809.1,661.01 L822.1,665.97 L835.1,671.07 L848.1,676.33 L861.2,681.74 L874.2,687.30 L887.2,693.00 L900.2,698.86 L913.3,704.86 L926.3,711.00" fill="none" stroke="#006e73" stroke-width="2.8"/>
<path d="M190.7,606.10 L206.0,606.46 L221.3,606.78 L236.7,607.09 L252.0,607.39 L267.3,607.69 L282.6,608.00 L298.0,608.33 L313.3,608.70 L328.6,609.11 L343.9,609.57 L359.3,610.09 L374.6,610.68 L389.9,611.34 L405.2,612.09" fill="none" stroke="#1d7b7d" stroke-width="1.25"/>
<path d="M405.2,612.09 L418.3,612.81 L431.3,613.59 L444.3,614.45 L457.4,615.39 L470.4,616.41 L483.4,617.53 L496.4,618.73 L509.5,620.04 L522.5,621.44 L535.5,622.94 L548.5,624.55 L561.6,626.27 L574.6,628.10 L587.6,630.04 L600.6,632.10 L613.7,634.28 L626.7,636.58 L639.7,639.01 L652.7,641.55 L665.8,644.23 L678.8,647.03 L691.8,649.96 L704.9,653.03 L717.9,656.22 L730.9,659.55 L743.9,663.01 L757.0,666.60 L770.0,670.32 L783.0,674.19 L796.0,678.18 L809.1,682.31 L822.1,686.57 L835.1,690.97 L848.1,695.50 L861.2,700.16 L874.2,704.95 L887.2,709.87 L900.2,714.92 L913.3,720.10 L926.3,725.40" fill="none" stroke="#006e73" stroke-width="2.8"/>
<path d="M190.7,623.70 L206.0,624.09 L221.3,624.44 L236.7,624.77 L252.0,625.07 L267.3,625.36 L282.6,625.66 L298.0,625.96 L313.3,626.29 L328.6,626.65 L343.9,627.05 L359.3,627.49 L374.6,627.99 L389.9,628.56 L405.2,629.20" fill="none" stroke="#1d7b7d" stroke-width="1.25"/>
<path d="M405.2,629.20 L418.3,629.81 L431.3,630.48 L444.3,631.22 L457.4,632.03 L470.4,632.92 L483.4,633.89 L496.4,634.94 L509.5,636.07 L522.5,637.30 L535.5,638.62 L548.5,640.04 L561.6,641.56 L574.6,643.19 L587.6,644.92 L600.6,646.76 L613.7,648.71 L626.7,650.77 L639.7,652.95 L652.7,655.25 L665.8,657.67 L678.8,660.20 L691.8,662.87 L704.9,665.65 L717.9,668.57 L730.9,671.61 L743.9,674.78 L757.0,678.07 L770.0,681.50 L783.0,685.06 L796.0,688.75 L809.1,692.57 L822.1,696.52 L835.1,700.60 L848.1,704.81 L861.2,709.15 L874.2,713.62 L887.2,718.23 L900.2,722.96 L913.3,727.81 L926.3,732.80" fill="none" stroke="#006e73" stroke-width="2.8"/>
<path d="M190.7,643.50 L206.0,643.90 L221.3,644.27 L236.7,644.62 L252.0,644.95 L267.3,645.27 L282.6,645.60 L298.0,645.93 L313.3,646.29 L328.6,646.68 L343.9,647.11 L359.3,647.58 L374.6,648.11 L389.9,648.69 L405.2,649.35" fill="none" stroke="#1d7b7d" stroke-width="1.25"/>
<path d="M405.2,649.35 L418.3,649.96 L431.3,650.63 L444.3,651.37 L457.4,652.17 L470.4,653.04 L483.4,653.98 L496.4,655.00 L509.5,656.10 L522.5,657.28 L535.5,658.55 L548.5,659.91 L561.6,661.35 L574.6,662.90 L587.6,664.53 L600.6,666.27 L613.7,668.11 L626.7,670.05 L639.7,672.09 L652.7,674.24 L665.8,676.50 L678.8,678.86 L691.8,681.34 L704.9,683.93 L717.9,686.63 L730.9,689.45 L743.9,692.38 L757.0,695.43 L770.0,698.59 L783.0,701.86 L796.0,705.25 L809.1,708.76 L822.1,712.39 L835.1,716.13 L848.1,719.98 L861.2,723.95 L874.2,728.04 L887.2,732.24 L900.2,736.55 L913.3,740.97 L926.3,745.50" fill="none" stroke="#006e73" stroke-width="2.8"/>
<path d="M190.7,660.70 L206.0,660.98 L221.3,661.23 L236.7,661.48 L252.0,661.72 L267.3,661.96 L282.6,662.22 L298.0,662.49 L313.3,662.79 L328.6,663.13 L343.9,663.51 L359.3,663.93 L374.6,664.41 L389.9,664.95 L405.2,665.55" fill="none" stroke="#1d7b7d" stroke-width="1.25"/>
<path d="M405.2,665.55 L418.3,666.12 L431.3,666.75 L444.3,667.43 L457.4,668.18 L470.4,668.99 L483.4,669.87 L496.4,670.81 L509.5,671.83 L522.5,672.93 L535.5,674.10 L548.5,675.36 L561.6,676.69 L574.6,678.11 L587.6,679.61 L600.6,681.20 L613.7,682.89 L626.7,684.66 L639.7,686.52 L652.7,688.48 L665.8,690.53 L678.8,692.67 L691.8,694.92 L704.9,697.26 L717.9,699.69 L730.9,702.23 L743.9,704.86 L757.0,707.60 L770.0,710.43 L783.0,713.36 L796.0,716.39 L809.1,719.52 L822.1,722.74 L835.1,726.07 L848.1,729.49 L861.2,733.00 L874.2,736.62 L887.2,740.32 L900.2,744.12 L913.3,748.02 L926.3,752.00" fill="none" stroke="#006e73" stroke-width="2.8"/>
<path d="M190.7,678.00 L206.0,678.18 L221.3,678.35 L236.7,678.53 L252.0,678.70 L267.3,678.89 L282.6,679.09 L298.0,679.32 L313.3,679.59 L328.6,679.88 L343.9,680.23 L359.3,680.61 L374.6,681.06 L389.9,681.56 L405.2,682.12" fill="none" stroke="#1d7b7d" stroke-width="1.25"/>
<path d="M405.2,682.12 L418.3,682.66 L431.3,683.24 L444.3,683.88 L457.4,684.58 L470.4,685.33 L483.4,686.15 L496.4,687.03 L509.5,687.98 L522.5,689.00 L535.5,690.08 L548.5,691.24 L561.6,692.47 L574.6,693.77 L587.6,695.16 L600.6,696.62 L613.7,698.15 L626.7,699.77 L639.7,701.47 L652.7,703.25 L665.8,705.11 L678.8,707.06 L691.8,709.08 L704.9,711.20 L717.9,713.39 L730.9,715.67 L743.9,718.04 L757.0,720.49 L770.0,723.02 L783.0,725.64 L796.0,728.34 L809.1,731.13 L822.1,734.00 L835.1,736.94 L848.1,739.98 L861.2,743.09 L874.2,746.28 L887.2,749.54 L900.2,752.89 L913.3,756.31 L926.3,759.80" fill="none" stroke="#006e73" stroke-width="2.8"/>
<path d="M190.7,696.30 L206.0,696.56 L221.3,696.79 L236.7,697.00 L252.0,697.20 L267.3,697.40 L282.6,697.60 L298.0,697.80 L313.3,698.02 L328.6,698.26 L343.9,698.53 L359.3,698.83 L374.6,699.16 L389.9,699.54 L405.2,699.97" fill="none" stroke="#1d7b7d" stroke-width="1.25"/>
<path d="M405.2,699.97 L418.3,700.37 L431.3,700.82 L444.3,701.30 L457.4,701.84 L470.4,702.43 L483.4,703.06 L496.4,703.76 L509.5,704.51 L522.5,705.31 L535.5,706.18 L548.5,707.12 L561.6,708.12 L574.6,709.18 L587.6,710.32 L600.6,711.52 L613.7,712.80 L626.7,714.15 L639.7,715.58 L652.7,717.08 L665.8,718.66 L678.8,720.32 L691.8,722.06 L704.9,723.88 L717.9,725.79 L730.9,727.77 L743.9,729.84 L757.0,731.99 L770.0,734.22 L783.0,736.54 L796.0,738.94 L809.1,741.43 L822.1,744.00 L835.1,746.66 L848.1,749.40 L861.2,752.23 L874.2,755.14 L887.2,758.13 L900.2,761.20 L913.3,764.36 L926.3,767.60" fill="none" stroke="#006e73" stroke-width="2.8"/>
<path d="M190.7,715.20 L206.0,715.31 L221.3,715.41 L236.7,715.50 L252.0,715.60 L267.3,715.71 L282.6,715.83 L298.0,715.97 L313.3,716.13 L328.6,716.32 L343.9,716.54 L359.3,716.80 L374.6,717.10 L389.9,717.44 L405.2,717.83" fill="none" stroke="#1d7b7d" stroke-width="1.25"/>
<path d="M405.2,717.83 L418.3,718.20 L431.3,718.62 L444.3,719.07 L457.4,719.57 L470.4,720.11 L483.4,720.71 L496.4,721.35 L509.5,722.04 L522.5,722.78 L535.5,723.58 L548.5,724.44 L561.6,725.35 L574.6,726.32 L587.6,727.35 L600.6,728.44 L613.7,729.59 L626.7,730.80 L639.7,732.07 L652.7,733.41 L665.8,734.82 L678.8,736.29 L691.8,737.82 L704.9,739.42 L717.9,741.09 L730.9,742.82 L743.9,744.62 L757.0,746.48 L770.0,748.42 L783.0,750.42 L796.0,752.48 L809.1,754.62 L822.1,756.81 L835.1,759.08 L848.1,761.41 L861.2,763.80 L874.2,766.25 L887.2,768.77 L900.2,771.35 L913.3,774.00 L926.3,776.70" fill="none" stroke="#006e73" stroke-width="2.8"/>
<path d="M190.7,732.80 L206.0,732.92 L221.3,733.04 L236.7,733.14 L252.0,733.24 L267.3,733.34 L282.6,733.44 L298.0,733.56 L313.3,733.69 L328.6,733.84 L343.9,734.01 L359.3,734.22 L374.6,734.45 L389.9,734.72 L405.2,735.02" fill="none" stroke="#1d7b7d" stroke-width="1.25"/>
<path d="M405.2,735.02 L418.3,735.31 L431.3,735.64 L444.3,736.00 L457.4,736.40 L470.4,736.83 L483.4,737.31 L496.4,737.82 L509.5,738.38 L522.5,738.99 L535.5,739.64 L548.5,740.34 L561.6,741.08 L574.6,741.88 L587.6,742.73 L600.6,743.63 L613.7,744.59 L626.7,745.60 L639.7,746.67 L652.7,747.79 L665.8,748.97 L678.8,750.21 L691.8,751.51 L704.9,752.87 L717.9,754.28 L730.9,755.76 L743.9,757.30 L757.0,758.90 L770.0,760.56 L783.0,762.28 L796.0,764.06 L809.1,765.90 L822.1,767.80 L835.1,769.77 L848.1,771.79 L861.2,773.88 L874.2,776.03 L887.2,778.23 L900.2,780.50 L913.3,782.82 L926.3,785.20" fill="none" stroke="#006e73" stroke-width="2.8"/>
<path d="M190.7,750.00 L206.0,750.11 L221.3,750.21 L236.7,750.30 L252.0,750.39 L267.3,750.48 L282.6,750.57 L298.0,750.68 L313.3,750.79 L328.6,750.92 L343.9,751.06 L359.3,751.23 L374.6,751.42 L389.9,751.64 L405.2,751.89" fill="none" stroke="#1d7b7d" stroke-width="1.25"/>
<path d="M405.2,751.89 L418.3,752.13 L431.3,752.40 L444.3,752.69 L457.4,753.02 L470.4,753.37 L483.4,753.75 L496.4,754.17 L509.5,754.62 L522.5,755.11 L535.5,755.64 L548.5,756.20 L561.6,756.81 L574.6,757.45 L587.6,758.14 L600.6,758.86 L613.7,759.63 L626.7,760.45 L639.7,761.31 L652.7,762.21 L665.8,763.16 L678.8,764.16 L691.8,765.21 L704.9,766.30 L717.9,767.44 L730.9,768.63 L743.9,769.86 L757.0,771.15 L770.0,772.48 L783.0,773.87 L796.0,775.30 L809.1,776.78 L822.1,778.31 L835.1,779.89 L848.1,781.52 L861.2,783.20 L874.2,784.92 L887.2,786.70 L900.2,788.52 L913.3,790.39 L926.3,792.30" fill="none" stroke="#006e73" stroke-width="2.8"/>
<path d="M190.7,768.50 L206.0,768.48 L221.3,768.46 L236.7,768.45 L252.0,768.44 L267.3,768.44 L282.6,768.46 L298.0,768.49 L313.3,768.53 L328.6,768.60 L343.9,768.68 L359.3,768.79 L374.6,768.92 L389.9,769.08 L405.2,769.27" fill="none" stroke="#1d7b7d" stroke-width="1.25"/>
<path d="M405.2,769.27 L418.3,769.45 L431.3,769.66 L444.3,769.89 L457.4,770.14 L470.4,770.42 L483.4,770.73 L496.4,771.07 L509.5,771.43 L522.5,771.82 L535.5,772.24 L548.5,772.69 L561.6,773.17 L574.6,773.69 L587.6,774.23 L600.6,774.81 L613.7,775.42 L626.7,776.06 L639.7,776.73 L652.7,777.44 L665.8,778.18 L678.8,778.96 L691.8,779.77 L704.9,780.62 L717.9,781.50 L730.9,782.41 L743.9,783.36 L757.0,784.34 L770.0,785.35 L783.0,786.40 L796.0,787.49 L809.1,788.60 L822.1,789.75 L835.1,790.93 L848.1,792.15 L861.2,793.40 L874.2,794.68 L887.2,795.99 L900.2,797.33 L913.3,798.70 L926.3,800.10" fill="none" stroke="#006e73" stroke-width="2.8"/>
<path d="M190.7,786.00 L206.0,786.09 L221.3,786.16 L236.7,786.22 L252.0,786.28 L267.3,786.33 L282.6,786.37 L298.0,786.42 L313.3,786.46 L328.6,786.52 L343.9,786.57 L359.3,786.64 L374.6,786.72 L389.9,786.81 L405.2,786.91" fill="none" stroke="#1d7b7d" stroke-width="1.25"/>
<path d="M405.2,786.91 L418.3,787.01 L431.3,787.12 L444.3,787.25 L457.4,787.40 L470.4,787.56 L483.4,787.73 L496.4,787.93 L509.5,788.14 L522.5,788.38 L535.5,788.63 L548.5,788.91 L561.6,789.21 L574.6,789.53 L587.6,789.88 L600.6,790.26 L613.7,790.65 L626.7,791.08 L639.7,791.53 L652.7,792.01 L665.8,792.52 L678.8,793.06 L691.8,793.62 L704.9,794.22 L717.9,794.84 L730.9,795.50 L743.9,796.19 L757.0,796.91 L770.0,797.66 L783.0,798.44 L796.0,799.25 L809.1,800.10 L822.1,800.98 L835.1,801.89 L848.1,802.84 L861.2,803.81 L874.2,804.82 L887.2,805.87 L900.2,806.95 L913.3,808.06 L926.3,809.20" fill="none" stroke="#006e73" stroke-width="2.8"/>
<path d="M190.7,803.30 L206.0,803.45 L221.3,803.58 L236.7,803.70 L252.0,803.81 L267.3,803.90 L282.6,803.99 L298.0,804.06 L313.3,804.13 L328.6,804.20 L343.9,804.27 L359.3,804.33 L374.6,804.40 L389.9,804.46 L405.2,804.53" fill="none" stroke="#1d7b7d" stroke-width="1.25"/>
<path d="M405.2,804.53 L418.3,804.60 L431.3,804.67 L444.3,804.74 L457.4,804.82 L470.4,804.91 L483.4,805.01 L496.4,805.12 L509.5,805.23 L522.5,805.36 L535.5,805.50 L548.5,805.65 L561.6,805.81 L574.6,805.98 L587.6,806.17 L600.6,806.38 L613.7,806.60 L626.7,806.83 L639.7,807.08 L652.7,807.35 L665.8,807.64 L678.8,807.94 L691.8,808.27 L704.9,808.61 L717.9,808.97 L730.9,809.35 L743.9,809.75 L757.0,810.17 L770.0,810.62 L783.0,811.08 L796.0,811.57 L809.1,812.08 L822.1,812.61 L835.1,813.16 L848.1,813.74 L861.2,814.34 L874.2,814.96 L887.2,815.61 L900.2,816.28 L913.3,816.98 L926.3,817.70" fill="none" stroke="#006e73" stroke-width="2.8"/>
<rect x="275.5" y="179.7" width="26.9" height="19" fill="#fff"/>
<text transform="translate(278.50 194.99) scale(1.06 1)" class="lb">36</text>
<rect x="215.0" y="231.6" width="26.9" height="19" fill="#fff"/>
<text transform="translate(218.00 246.90) scale(1.06 1)" class="lb">33</text>
<rect x="275.5" y="292.0" width="26.9" height="19" fill="#fff"/>
<text transform="translate(278.50 307.29) scale(1.06 1)" class="lb">30</text>
<rect x="215.0" y="343.0" width="26.9" height="19" fill="#fff"/>
<text transform="translate(218.00 358.32) scale(1.06 1)" class="lb">27</text>
<rect x="275.5" y="379.6" width="26.9" height="19" fill="#fff"/>
<text transform="translate(278.50 394.92) scale(1.06 1)" class="lb">25</text>
<rect x="215.0" y="422.9" width="26.9" height="19" fill="#fff"/>
<text transform="translate(218.00 438.23) scale(1.06 1)" class="lb">23</text>
<rect x="275.5" y="458.4" width="26.9" height="19" fill="#fff"/>
<text transform="translate(278.50 473.75) scale(1.06 1)" class="lb">21</text>
<rect x="215.0" y="490.9" width="26.9" height="19" fill="#fff"/>
<text transform="translate(218.00 506.22) scale(1.06 1)" class="lb">19</text>
<rect x="275.5" y="526.3" width="26.9" height="19" fill="#fff"/>
<text transform="translate(278.50 541.59) scale(1.06 1)" class="lb">17</text>
<rect x="215.0" y="563.4" width="26.9" height="19" fill="#fff"/>
<text transform="translate(218.00 578.74) scale(1.06 1)" class="lb">15</text>
<rect x="275.5" y="598.6" width="26.9" height="19" fill="#fff"/>
<text transform="translate(278.50 613.94) scale(1.06 1)" class="lb">13</text>
<rect x="215.0" y="615.1" width="26.9" height="19" fill="#fff"/>
<text transform="translate(218.00 630.41) scale(1.06 1)" class="lb">12</text>
<rect x="275.5" y="636.2" width="26.9" height="19" fill="#fff"/>
<text transform="translate(278.50 651.54) scale(1.06 1)" class="lb">11</text>
<rect x="215.0" y="651.9" width="26.9" height="19" fill="#fff"/>
<text transform="translate(218.00 667.15) scale(1.06 1)" class="lb">10</text>
<rect x="275.5" y="669.6" width="17.0" height="19" fill="#fff"/>
<text transform="translate(278.50 684.92) scale(1.06 1)" class="lb">9</text>
<rect x="215.0" y="687.3" width="17.0" height="19" fill="#fff"/>
<text transform="translate(218.00 702.63) scale(1.06 1)" class="lb">8</text>
<rect x="275.5" y="706.3" width="17.0" height="19" fill="#fff"/>
<text transform="translate(278.50 721.65) scale(1.06 1)" class="lb">7</text>
<rect x="215.0" y="723.6" width="17.0" height="19" fill="#fff"/>
<text transform="translate(218.00 738.85) scale(1.06 1)" class="lb">6</text>
<rect x="275.5" y="741.1" width="17.0" height="19" fill="#fff"/>
<text transform="translate(278.50 756.39) scale(1.06 1)" class="lb">5</text>
<rect x="215.0" y="759.0" width="17.0" height="19" fill="#fff"/>
<text transform="translate(218.00 774.26) scale(1.06 1)" class="lb">4</text>
<rect x="275.5" y="776.9" width="17.0" height="19" fill="#fff"/>
<text transform="translate(278.50 792.18) scale(1.06 1)" class="lb">3</text>
<rect x="215.0" y="794.1" width="17.0" height="19" fill="#fff"/>
<text transform="translate(218.00 809.40) scale(1.06 1)" class="lb">2</text>
<line x1="173.5" y1="135.5" x2="988" y2="135.5" stroke="#222" stroke-width="1.6"/>
<line x1="173.5" y1="840.5" x2="988" y2="840.5" stroke="#222" stroke-width="1.6"/>
<line x1="190.7" y1="134.7" x2="190.7" y2="841.3" stroke="#111" stroke-width="2"/>
<line x1="987.3" y1="135.5" x2="987.3" y2="858" stroke="#1a1a1a" stroke-width="1.6"/>
<line x1="173.5" y1="840.50" x2="190.7" y2="840.50" stroke="#555" stroke-width="1.3"/>
<line x1="182.4" y1="811.30" x2="190.7" y2="811.30" stroke="#555" stroke-width="1.3"/>
<line x1="173.5" y1="781.80" x2="190.7" y2="781.80" stroke="#555" stroke-width="1.3"/>
<line x1="182.4" y1="752.50" x2="190.7" y2="752.50" stroke="#555" stroke-width="1.3"/>
<line x1="173.5" y1="722.90" x2="190.7" y2="722.90" stroke="#555" stroke-width="1.3"/>
<line x1="182.4" y1="693.00" x2="190.7" y2="693.00" stroke="#555" stroke-width="1.3"/>
<line x1="173.5" y1="663.40" x2="190.7" y2="663.40" stroke="#555" stroke-width="1.3"/>
<line x1="182.4" y1="634.10" x2="190.7" y2="634.10" stroke="#555" stroke-width="1.3"/>
<line x1="173.5" y1="604.60" x2="190.7" y2="604.60" stroke="#555" stroke-width="1.3"/>
<line x1="182.4" y1="575.50" x2="190.7" y2="575.50" stroke="#555" stroke-width="1.3"/>
<line x1="173.5" y1="546.20" x2="190.7" y2="546.20" stroke="#555" stroke-width="1.3"/>
<line x1="182.4" y1="517.00" x2="190.7" y2="517.00" stroke="#555" stroke-width="1.3"/>
<line x1="173.5" y1="487.50" x2="190.7" y2="487.50" stroke="#555" stroke-width="1.3"/>
<line x1="182.4" y1="458.20" x2="190.7" y2="458.20" stroke="#555" stroke-width="1.3"/>
<line x1="173.5" y1="428.80" x2="190.7" y2="428.80" stroke="#555" stroke-width="1.3"/>
<line x1="182.4" y1="399.60" x2="190.7" y2="399.60" stroke="#555" stroke-width="1.3"/>
<line x1="173.5" y1="370.20" x2="190.7" y2="370.20" stroke="#555" stroke-width="1.3"/>
<line x1="182.4" y1="341.20" x2="190.7" y2="341.20" stroke="#555" stroke-width="1.3"/>
<line x1="173.5" y1="311.50" x2="190.7" y2="311.50" stroke="#555" stroke-width="1.3"/>
<line x1="182.4" y1="282.40" x2="190.7" y2="282.40" stroke="#555" stroke-width="1.3"/>
<line x1="173.5" y1="252.90" x2="190.7" y2="252.90" stroke="#555" stroke-width="1.3"/>
<line x1="182.4" y1="223.20" x2="190.7" y2="223.20" stroke="#555" stroke-width="1.3"/>
<line x1="173.5" y1="194.10" x2="190.7" y2="194.10" stroke="#555" stroke-width="1.3"/>
<line x1="182.4" y1="164.80" x2="190.7" y2="164.80" stroke="#555" stroke-width="1.3"/>
<line x1="173.5" y1="135.45" x2="190.7" y2="135.45" stroke="#555" stroke-width="1.3"/>
<line x1="190.70" y1="840.5" x2="190.70" y2="858" stroke="#555" stroke-width="1.3"/>
<line x1="221.35" y1="840.5" x2="221.35" y2="849" stroke="#555" stroke-width="1.3"/>
<line x1="252.00" y1="840.5" x2="252.00" y2="858" stroke="#555" stroke-width="1.3"/>
<line x1="282.65" y1="840.5" x2="282.65" y2="849" stroke="#555" stroke-width="1.3"/>
<line x1="313.30" y1="840.5" x2="313.30" y2="858" stroke="#555" stroke-width="1.3"/>
<line x1="343.95" y1="840.5" x2="343.95" y2="849" stroke="#555" stroke-width="1.3"/>
<line x1="374.60" y1="840.5" x2="374.60" y2="858" stroke="#555" stroke-width="1.3"/>
<line x1="405.25" y1="840.5" x2="405.25" y2="849" stroke="#555" stroke-width="1.3"/>
<line x1="435.90" y1="840.5" x2="435.90" y2="858" stroke="#555" stroke-width="1.3"/>
<line x1="466.55" y1="840.5" x2="466.55" y2="849" stroke="#555" stroke-width="1.3"/>
<line x1="497.20" y1="840.5" x2="497.20" y2="858" stroke="#555" stroke-width="1.3"/>
<line x1="527.85" y1="840.5" x2="527.85" y2="849" stroke="#555" stroke-width="1.3"/>
<line x1="558.50" y1="840.5" x2="558.50" y2="858" stroke="#555" stroke-width="1.3"/>
<line x1="589.15" y1="840.5" x2="589.15" y2="849" stroke="#555" stroke-width="1.3"/>
<line x1="619.80" y1="840.5" x2="619.80" y2="858" stroke="#555" stroke-width="1.3"/>
<line x1="650.45" y1="840.5" x2="650.45" y2="849" stroke="#555" stroke-width="1.3"/>
<line x1="681.10" y1="840.5" x2="681.10" y2="858" stroke="#555" stroke-width="1.3"/>
<line x1="711.75" y1="840.5" x2="711.75" y2="849" stroke="#555" stroke-width="1.3"/>
<line x1="742.40" y1="840.5" x2="742.40" y2="858" stroke="#555" stroke-width="1.3"/>
<line x1="773.05" y1="840.5" x2="773.05" y2="849" stroke="#555" stroke-width="1.3"/>
<line x1="803.70" y1="840.5" x2="803.70" y2="858" stroke="#555" stroke-width="1.3"/>
<line x1="834.35" y1="840.5" x2="834.35" y2="849" stroke="#555" stroke-width="1.3"/>
<line x1="865.00" y1="840.5" x2="865.00" y2="858" stroke="#555" stroke-width="1.3"/>
<line x1="895.65" y1="840.5" x2="895.65" y2="849" stroke="#555" stroke-width="1.3"/>
<line x1="926.30" y1="840.5" x2="926.30" y2="858" stroke="#555" stroke-width="1.3"/>
<line x1="956.95" y1="840.5" x2="956.95" y2="849" stroke="#555" stroke-width="1.3"/>
<line x1="987.60" y1="840.5" x2="987.60" y2="858" stroke="#555" stroke-width="1.3"/>
<line x1="116" y1="136" x2="116" y2="841" stroke="#555" stroke-width="1.4"/>
<line x1="98.4" y1="840.50" x2="116" y2="840.50" stroke="#555" stroke-width="1.3"/>
<line x1="106.4" y1="810.50" x2="116" y2="810.50" stroke="#555" stroke-width="1.3"/>
<line x1="106.4" y1="780.50" x2="116" y2="780.50" stroke="#555" stroke-width="1.3"/>
<line x1="106.4" y1="750.50" x2="116" y2="750.50" stroke="#555" stroke-width="1.3"/>
<line x1="98.4" y1="720.50" x2="116" y2="720.50" stroke="#555" stroke-width="1.3"/>
<line x1="106.4" y1="690.50" x2="116" y2="690.50" stroke="#555" stroke-width="1.3"/>
<line x1="106.4" y1="660.50" x2="116" y2="660.50" stroke="#555" stroke-width="1.3"/>
<line x1="106.4" y1="630.50" x2="116" y2="630.50" stroke="#555" stroke-width="1.3"/>
<line x1="98.4" y1="600.50" x2="116" y2="600.50" stroke="#555" stroke-width="1.3"/>
<line x1="106.4" y1="570.50" x2="116" y2="570.50" stroke="#555" stroke-width="1.3"/>
<line x1="106.4" y1="540.50" x2="116" y2="540.50" stroke="#555" stroke-width="1.3"/>
<line x1="106.4" y1="510.50" x2="116" y2="510.50" stroke="#555" stroke-width="1.3"/>
<line x1="98.4" y1="480.50" x2="116" y2="480.50" stroke="#555" stroke-width="1.3"/>
<line x1="106.4" y1="450.50" x2="116" y2="450.50" stroke="#555" stroke-width="1.3"/>
<line x1="106.4" y1="420.50" x2="116" y2="420.50" stroke="#555" stroke-width="1.3"/>
<line x1="106.4" y1="390.50" x2="116" y2="390.50" stroke="#555" stroke-width="1.3"/>
<line x1="98.4" y1="360.50" x2="116" y2="360.50" stroke="#555" stroke-width="1.3"/>
<line x1="106.4" y1="330.50" x2="116" y2="330.50" stroke="#555" stroke-width="1.3"/>
<line x1="106.4" y1="300.50" x2="116" y2="300.50" stroke="#555" stroke-width="1.3"/>
<line x1="106.4" y1="270.50" x2="116" y2="270.50" stroke="#555" stroke-width="1.3"/>
<line x1="98.4" y1="240.50" x2="116" y2="240.50" stroke="#555" stroke-width="1.3"/>
<line x1="106.4" y1="210.50" x2="116" y2="210.50" stroke="#555" stroke-width="1.3"/>
<line x1="106.4" y1="180.50" x2="116" y2="180.50" stroke="#555" stroke-width="1.3"/>
<line x1="106.4" y1="150.50" x2="116" y2="150.50" stroke="#555" stroke-width="1.3"/>
<line x1="190.1" y1="915.3" x2="988" y2="915.3" stroke="#555" stroke-width="1.5"/>
<line x1="190.70" y1="915.3" x2="190.70" y2="932.5" stroke="#555" stroke-width="1.3"/>
<line x1="212.70" y1="915.3" x2="212.70" y2="923.5" stroke="#555" stroke-width="1.3"/>
<line x1="234.70" y1="915.3" x2="234.70" y2="923.5" stroke="#555" stroke-width="1.3"/>
<line x1="256.70" y1="915.3" x2="256.70" y2="923.5" stroke="#555" stroke-width="1.3"/>
<line x1="278.70" y1="915.3" x2="278.70" y2="923.5" stroke="#555" stroke-width="1.3"/>
<line x1="300.70" y1="915.3" x2="300.70" y2="932.5" stroke="#555" stroke-width="1.3"/>
<line x1="322.70" y1="915.3" x2="322.70" y2="923.5" stroke="#555" stroke-width="1.3"/>
<line x1="344.70" y1="915.3" x2="344.70" y2="923.5" stroke="#555" stroke-width="1.3"/>
<line x1="366.70" y1="915.3" x2="366.70" y2="923.5" stroke="#555" stroke-width="1.3"/>
<line x1="388.70" y1="915.3" x2="388.70" y2="923.5" stroke="#555" stroke-width="1.3"/>
<line x1="410.70" y1="915.3" x2="410.70" y2="932.5" stroke="#555" stroke-width="1.3"/>
<line x1="432.70" y1="915.3" x2="432.70" y2="923.5" stroke="#555" stroke-width="1.3"/>
<line x1="454.70" y1="915.3" x2="454.70" y2="923.5" stroke="#555" stroke-width="1.3"/>
<line x1="476.70" y1="915.3" x2="476.70" y2="923.5" stroke="#555" stroke-width="1.3"/>
<line x1="498.70" y1="915.3" x2="498.70" y2="923.5" stroke="#555" stroke-width="1.3"/>
<line x1="520.70" y1="915.3" x2="520.70" y2="932.5" stroke="#555" stroke-width="1.3"/>
<line x1="542.70" y1="915.3" x2="542.70" y2="923.5" stroke="#555" stroke-width="1.3"/>
<line x1="564.70" y1="915.3" x2="564.70" y2="923.5" stroke="#555" stroke-width="1.3"/>
<line x1="586.70" y1="915.3" x2="586.70" y2="923.5" stroke="#555" stroke-width="1.3"/>
<line x1="608.70" y1="915.3" x2="608.70" y2="923.5" stroke="#555" stroke-width="1.3"/>
<line x1="630.70" y1="915.3" x2="630.70" y2="932.5" stroke="#555" stroke-width="1.3"/>
<line x1="652.70" y1="915.3" x2="652.70" y2="923.5" stroke="#555" stroke-width="1.3"/>
<line x1="674.70" y1="915.3" x2="674.70" y2="923.5" stroke="#555" stroke-width="1.3"/>
<line x1="696.70" y1="915.3" x2="696.70" y2="923.5" stroke="#555" stroke-width="1.3"/>
<line x1="718.70" y1="915.3" x2="718.70" y2="923.5" stroke="#555" stroke-width="1.3"/>
<line x1="740.70" y1="915.3" x2="740.70" y2="932.5" stroke="#555" stroke-width="1.3"/>
<line x1="762.70" y1="915.3" x2="762.70" y2="923.5" stroke="#555" stroke-width="1.3"/>
<line x1="784.70" y1="915.3" x2="784.70" y2="923.5" stroke="#555" stroke-width="1.3"/>
<line x1="806.70" y1="915.3" x2="806.70" y2="923.5" stroke="#555" stroke-width="1.3"/>
<line x1="828.70" y1="915.3" x2="828.70" y2="923.5" stroke="#555" stroke-width="1.3"/>
<line x1="850.70" y1="915.3" x2="850.70" y2="932.5" stroke="#555" stroke-width="1.3"/>
<line x1="872.70" y1="915.3" x2="872.70" y2="923.5" stroke="#555" stroke-width="1.3"/>
<line x1="894.70" y1="915.3" x2="894.70" y2="923.5" stroke="#555" stroke-width="1.3"/>
<line x1="916.70" y1="915.3" x2="916.70" y2="923.5" stroke="#555" stroke-width="1.3"/>
<line x1="938.70" y1="915.3" x2="938.70" y2="923.5" stroke="#555" stroke-width="1.3"/>
<line x1="960.70" y1="915.3" x2="960.70" y2="932.5" stroke="#555" stroke-width="1.3"/>
<line x1="982.70" y1="915.3" x2="982.70" y2="923.5" stroke="#555" stroke-width="1.3"/>
<text transform="translate(149.60 788.80) scale(1.09 1)" class="ax" text-anchor="middle">20</text>
<text transform="translate(149.60 729.90) scale(1.09 1)" class="ax" text-anchor="middle">40</text>
<text transform="translate(149.60 670.40) scale(1.09 1)" class="ax" text-anchor="middle">60</text>
<text transform="translate(149.60 611.60) scale(1.09 1)" class="ax" text-anchor="middle">80</text>
<text transform="translate(149.60 553.20) scale(1.09 1)" class="ax" text-anchor="middle">100</text>
<text transform="translate(149.60 494.50) scale(1.09 1)" class="ax" text-anchor="middle">120</text>
<text transform="translate(149.60 435.80) scale(1.09 1)" class="ax" text-anchor="middle">140</text>
<text transform="translate(149.60 377.20) scale(1.09 1)" class="ax" text-anchor="middle">160</text>
<text transform="translate(149.60 318.50) scale(1.09 1)" class="ax" text-anchor="middle">180</text>
<text transform="translate(149.60 259.90) scale(1.09 1)" class="ax" text-anchor="middle">200</text>
<text transform="translate(149.60 201.10) scale(1.09 1)" class="ax" text-anchor="middle">220</text>
<text transform="translate(71.30 848.10) scale(1.09 1)" class="ax" text-anchor="middle">0</text>
<text transform="translate(71.30 728.10) scale(1.09 1)" class="ax" text-anchor="middle">400</text>
<text transform="translate(71.30 608.10) scale(1.09 1)" class="ax" text-anchor="middle">800</text>
<text transform="translate(71.30 488.10) scale(1.09 1)" class="ax" text-anchor="middle">1200</text>
<text transform="translate(71.30 368.10) scale(1.09 1)" class="ax" text-anchor="middle">1600</text>
<text transform="translate(71.30 248.10) scale(1.09 1)" class="ax" text-anchor="middle">2000</text>
<text transform="translate(149.80 848.40) scale(1.09 1)" class="ax" text-anchor="middle">0</text>
<text transform="translate(191.90 886.00) scale(1.09 1)" class="ax" text-anchor="middle">0</text>
<text transform="translate(253.20 886.00) scale(1.09 1)" class="ax" text-anchor="middle">0.2</text>
<text transform="translate(314.50 886.00) scale(1.09 1)" class="ax" text-anchor="middle">0.4</text>
<text transform="translate(375.80 886.00) scale(1.09 1)" class="ax" text-anchor="middle">0.6</text>
<text transform="translate(437.10 886.00) scale(1.09 1)" class="ax" text-anchor="middle">0.8</text>
<text transform="translate(498.40 886.00) scale(1.09 1)" class="ax" text-anchor="middle">1.0</text>
<text transform="translate(559.70 886.00) scale(1.09 1)" class="ax" text-anchor="middle">1.2</text>
<text transform="translate(621.00 886.00) scale(1.09 1)" class="ax" text-anchor="middle">1.4</text>
<text transform="translate(682.30 886.00) scale(1.09 1)" class="ax" text-anchor="middle">1.6</text>
<text transform="translate(743.60 886.00) scale(1.09 1)" class="ax" text-anchor="middle">1.8</text>
<text transform="translate(804.90 886.00) scale(1.09 1)" class="ax" text-anchor="middle">2.0</text>
<text transform="translate(866.20 886.00) scale(1.09 1)" class="ax" text-anchor="middle">2.2</text>
<text transform="translate(924.00 886.20) scale(1.215 1)" class="ax">Q (м³/ч)</text>
<text transform="translate(191.50 961.00) scale(1.09 1)" class="ax" text-anchor="middle">0</text>
<text transform="translate(301.50 961.00) scale(1.09 1)" class="ax" text-anchor="middle">0.1</text>
<text transform="translate(411.50 961.00) scale(1.09 1)" class="ax" text-anchor="middle">0.2</text>
<text transform="translate(521.50 961.00) scale(1.09 1)" class="ax" text-anchor="middle">0.3</text>
<text transform="translate(631.50 961.00) scale(1.09 1)" class="ax" text-anchor="middle">0.4</text>
<text transform="translate(741.50 961.00) scale(1.09 1)" class="ax" text-anchor="middle">0.5</text>
<text transform="translate(851.50 961.00) scale(1.09 1)" class="ax" text-anchor="middle">0.6</text>
<text transform="translate(924.00 961.20) scale(1.235 1)" class="ax">Q (л/с)</text>
<text transform="translate(71.70 145.50) scale(1.09 1)" class="ax" text-anchor="middle">P</text>
<text transform="translate(71.50 165.30) scale(1.09 1)" class="ax" text-anchor="middle">[kPa]</text>
<text transform="translate(147.90 145.50) scale(1.09 1)" class="ax" text-anchor="middle">H</text>
<text transform="translate(147.40 165.30) scale(1.09 1)" class="ax" text-anchor="middle">[m]</text>
<rect x="804" y="135.5" width="183.3" height="116.5" fill="#fff" stroke="#222" stroke-width="1.5"/>
<text transform="translate(895.30 180.60) scale(1.0 1)" class="bx" text-anchor="middle" style="font-weight:bold;font-size:32.5px">LVR1,LVS1</text>
<text transform="translate(895.10 208.60) scale(1.05 1)" class="bx" text-anchor="middle" style="font-size:22px">50Hz</text>
<text transform="translate(894.20 230.60) scale(1.03 1)" class="bx" text-anchor="middle" style="font-size:17.2px">ISO 9906 Annex A</text>
</svg>
</body></html>
